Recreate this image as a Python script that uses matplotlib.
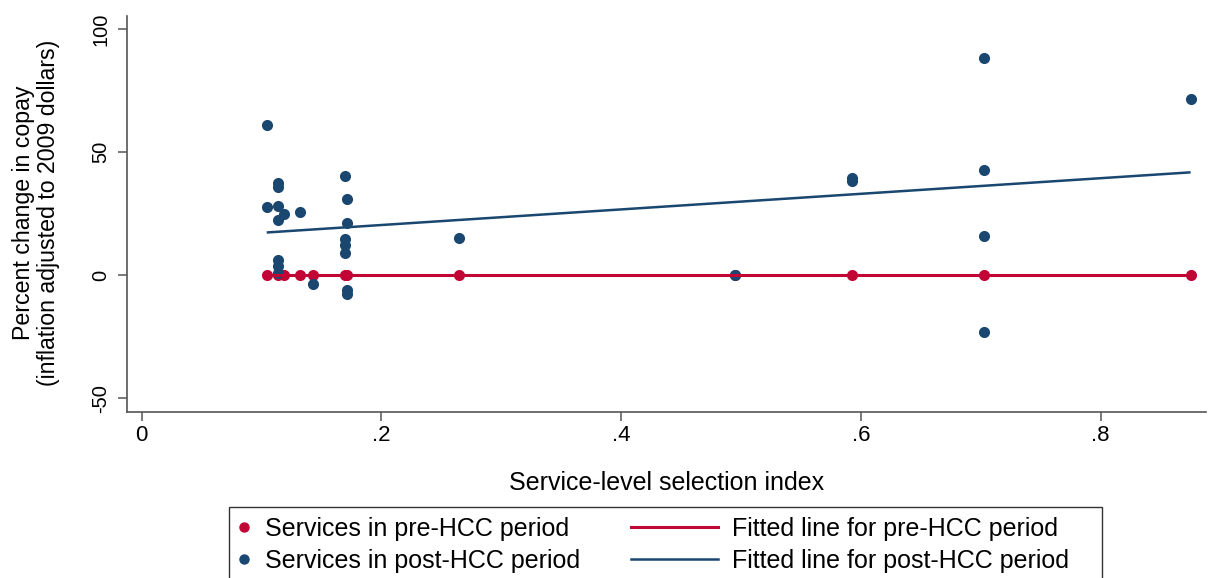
import numpy as np
import matplotlib
matplotlib.use("Agg")
import matplotlib.pyplot as plt
from matplotlib.lines import Line2D
from matplotlib.patches import Rectangle

plt.rcParams["font.family"] = ["Liberation Sans", "DejaVu Sans"]

# Service-level selection index and percent change in copay
pre_index = [0.1043, 0.114, 0.119, 0.132, 0.1425, 0.1696, 0.1715,
             0.2647, 0.495, 0.5923, 0.7027, 0.875]
pre_change = [0, 0, 0, 0, 0, 0, 0, 0, 0, 0, 0, 0]

post_index = [0.1043, 0.1043,
              0.114, 0.114, 0.114, 0.114, 0.114, 0.114, 0.114,
              0.119, 0.132, 0.1425,
              0.1696, 0.1696, 0.1696, 0.1696,
              0.1715, 0.1715, 0.1715, 0.1715,
              0.2647, 0.495, 0.5923, 0.5923,
              0.7027, 0.7027, 0.7027, 0.7027, 0.875]
post_change = [61.0, 27.6,
               37.6, 35.7, 28.3, 22.6, 6.2, 3.9, 0.8,
               24.9, 25.6, -3.4,
               40.2, 14.6, 12.2, 8.9,
               31.1, 21.1, -6.0, -7.7,
               15.3, 0.1, 39.5, 38.3,
               88.1, 42.7, 15.9, -23.1, 71.5]

x_ticks = [0, 0.2, 0.4, 0.6, 0.8]
x_tick_labels = ["0", ".2", ".4", ".6", ".8"]
y_ticks = [-50, 0, 50, 100]
y_tick_labels = ["-50", "0", "50", "100"]

RED = "#C10534"
BLUE = "#1A476F"
AXIS = "#555555"

W, H = 1219, 578
fig = plt.figure(figsize=(W / 100, H / 100), dpi=100)
ax = fig.add_axes([126.7 / W, 1 - 412.3 / H, (1205.7 - 126.7) / W, (412.3 - 16) / H])

ax.scatter(pre_index, pre_change, s=64, color=RED, linewidths=0, zorder=3)
ax.scatter(post_index, post_change, s=64, color=BLUE, linewidths=0, zorder=3)


def fitted(xs, ys):
    xs = np.asarray(xs, float)
    ys = np.asarray(ys, float)
    b, a = np.polyfit(xs, ys, 1)
    xx = np.array([xs.min(), xs.max()])
    return xx, a + b * xx


fx, fy = fitted(pre_index, pre_change)
ax.plot(fx, fy, color=RED, lw=2.2, zorder=4, solid_capstyle="butt")
fx, fy = fitted(post_index, post_change)
ax.plot(fx, fy, color=BLUE, lw=1.8, zorder=4, solid_capstyle="butt")

ax.set_xlim(-0.0125, 0.8876)
ax.set_ylim(-55.6, 105.2)
ax.set_xticks(x_ticks)
ax.set_xticklabels(x_tick_labels, fontsize=16)
ax.set_yticks(y_ticks)
ax.set_yticklabels(y_tick_labels, rotation=90, va="center", fontsize=14.5)

for side in ("top", "right"):
    ax.spines[side].set_visible(False)
for side in ("left", "bottom"):
    ax.spines[side].set_color(AXIS)
    ax.spines[side].set_linewidth(1.2)
ax.tick_params(axis="both", colors=AXIS, length=6.5, width=1.1,
               labelcolor="black")
ax.tick_params(axis="y", pad=5.5)
ax.tick_params(axis="x", pad=3)

fig.text(667 / W, 1 - 483 / H, "Service-level selection index",
         ha="center", va="center", fontsize=18)
fig.text(36 / W, 1 - 213 / H,
         "Percent change in copay\n(inflation adjusted to 2009 dollars)",
         ha="center", va="center", rotation=90, fontsize=16.7, linespacing=1.15,
         multialignment="center")

# Legend box
fig.patches.append(Rectangle((229 / W, -0.05), (1102.3 - 229) / W,
                             0.05 + 1 - 507.3 / H, transform=fig.transFigure,
                             fill=False, edgecolor="#333333", lw=1.0))

marker_handles = [
    Line2D([], [], ls="none", marker="o", ms=6.5, color=RED, mec=RED),
    Line2D([], [], ls="none", marker="o", ms=6.5, color=BLUE, mec=BLUE),
]
line_handles = [
    Line2D([], [], color=RED, lw=2.2),
    Line2D([], [], color=BLUE, lw=1.8),
]
leg_kw = dict(loc="upper left", frameon=False, fontsize=18, labelspacing=0.32,
              borderpad=0, borderaxespad=0)
fig.legend(marker_handles,
           ["Services in pre-HCC period", "Services in post-HCC period"],
           bbox_to_anchor=(236 / W, 1 - 517 / H), handlelength=0.6,
           handletextpad=0.55, **leg_kw)
fig.legend(line_handles,
           ["Fitted line for pre-HCC period", "Fitted line for post-HCC period"],
           bbox_to_anchor=(631 / W, 1 - 517 / H), handlelength=3.5,
           handletextpad=0.55, **leg_kw)

fig.savefig("out.png", dpi=100)
